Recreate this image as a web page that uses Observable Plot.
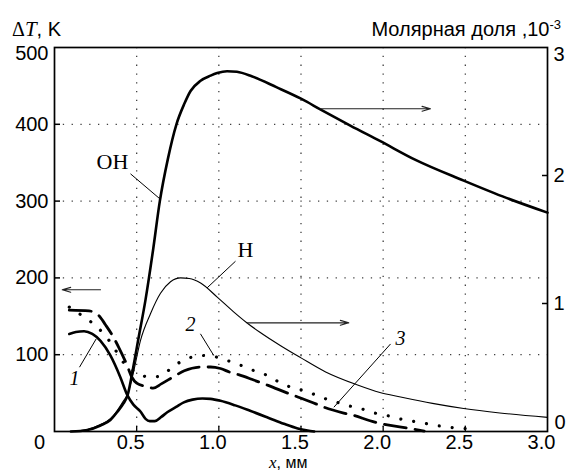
<!DOCTYPE html>
<html>
<head>
<meta charset="utf-8">
<script src="https://cdn.jsdelivr.net/npm/d3@7"></script>
<script src="https://cdn.jsdelivr.net/npm/@observablehq/plot@0.6"></script>
<style>
  html, body { margin: 0; padding: 0; background: #fff; }
</style>
</head>
<body>
<div id="chart"></div>
<script>
// ---- data ----
// right axis: molar fraction, 10^-3  (OH and H)
const xOH = [0.1,0.2,0.28,0.34,0.38,0.42,0.444,0.479,0.51,0.554,0.6,0.641,0.69,0.742,0.79,0.828,0.889,0.95,0.99,1.05,1.11,1.2,1.35,1.5,1.62,1.8,1.98,2.2,2.49,2.75,3.0];
const yOH = [0.0,0.012,0.047,0.09,0.15,0.22,0.28,0.50,0.72,1.03,1.42,1.80,2.13,2.40,2.56,2.66,2.74,2.78,2.80,2.815,2.81,2.775,2.69,2.60,2.515,2.39,2.27,2.12,1.96,1.825,1.71];
const xH = [0.1,0.2,0.28,0.34,0.38,0.42,0.444,0.48,0.523,0.584,0.645,0.706,0.767,0.82,0.889,0.99,1.09,1.17,1.25,1.376,1.5,1.65,1.84,1.98,2.106,2.3,2.49,2.71,3.0];
const yH = [0.0,0.015,0.055,0.10,0.16,0.24,0.29,0.46,0.71,0.92,1.08,1.17,1.20,1.195,1.16,1.05,0.935,0.85,0.775,0.67,0.575,0.465,0.365,0.305,0.27,0.22,0.18,0.145,0.11];
// left axis: ΔT, K  (curves 1, 2, 3)
const x1 = [0.09,0.13,0.18,0.23,0.28,0.34,0.40,0.444,0.48,0.523,0.554,0.58,0.61,0.65,0.686,0.74,0.787,0.84,0.9,0.949,1.01,1.1,1.19,1.3,1.396,1.48,1.54,1.58];
const t1 = [127,129.5,130.5,127,118,99,71,47,35,26,16.5,13.5,13.5,19,25,32,38,41.5,43,42.5,40,34,27,18,10,4,1.3,0];
const x2 = [0.09,0.18,0.26,0.33,0.38,0.43,0.5,0.57,0.645,0.72,0.81,0.89,0.97,1.05,1.13,1.21,1.295,1.37,1.447,1.54,1.615,1.69,1.78,1.86,1.94,2.02,2.1,2.18,2.27,2.35,2.43,2.51,2.55];
const t2 = [162,149,136,119,103,87,77,71,72,84.5,95,99,97.6,92.5,86.5,79.5,73,64,57,52,45,40,34,30,24.5,21,16.5,13.4,10,7,4.8,3.5,0];
const x3 = [0.09,0.21,0.27,0.31,0.35,0.39,0.44,0.47,0.5,0.56,0.6,0.65,0.73,0.79,0.89,0.95,1.01,1.07,1.12,1.2,1.25,1.3,1.43,1.48,1.59,1.64,1.76,1.82,1.92,1.99,2.12,2.2,2.25];
const t3 = [158,157,151,139,126,110,87,71,63,58.5,56.5,62,72,79,84,84,82,77,74,68,64,60,49,45,36,31.6,24,21,14,10,5.5,2.5,0.5];

// tick labels
const xTicks = [0.5,1.0,1.5,2.0,2.5,3.0];
const xGrid = [0.5,1.0,1.5,2.0,2.5];
const yTicksLeft = [100,200,300,400];
const yTicksRight = [1,2];

// annotations (data units; y in K)
const noteText = ["OH","H"];
const noteX = [0.353,1.162];
const noteY = [351,236];
const numText = ["1","2","3"];
const numX = [0.122,0.828,2.105];
const numY = [69,139,121];
const leadX1 = [0.4625,1.1015,0.152,0.888,2.045];
const leadY1 = [335.5,221.7,83.7,127.2,114];
const leadX2 = [0.641,0.929,0.254,0.969,1.70];
const leadY2 = [303,187.1,120.7,99,31.6];
const arrX1 = [0.28,1.619,1.173];
const arrX2 = [0.047,2.288,1.791];
const arrY = [184.5,420.2,141.5];

const k = 500 / 3; // right-axis unit -> left-axis unit
const idx = a => d3.range(a.length);
const serif = "'Liberation Serif','Times New Roman',serif";
const sans = "'Liberation Sans',Arial,sans-serif";

const chart = Plot.plot({
  width: 571,
  height: 472,
  marginLeft: 54,
  marginRight: 24,
  marginTop: 47,
  marginBottom: 41,
  style: {fontFamily: sans, fontSize: "20px", color: "#000", background: "#fff", overflow: "visible"},
  x: {domain: [0, 3]},
  y: {domain: [0, 500]},
  marks: [
    Plot.gridX(xGrid, {stroke: "#000", strokeOpacity: 0.75, strokeWidth: 1.3, strokeDasharray: "1.3,7.5"}),
    Plot.gridY(yTicksLeft, {stroke: "#000", strokeOpacity: 0.75, strokeWidth: 1.3, strokeDasharray: "1.3,7.5"}),
    // series
    Plot.line(idx(xH), {x: i => xH[i], y: i => yH[i] * k, stroke: "#000", strokeWidth: 1.1, curve: "monotone-x"}),
    Plot.line(idx(xOH), {x: i => xOH[i], y: i => yOH[i] * k, stroke: "#000", strokeWidth: 2.6, curve: "monotone-x"}),
    Plot.line(idx(x1), {x: i => x1[i], y: i => t1[i], stroke: "#000", strokeWidth: 2.6, curve: "monotone-x"}),
    Plot.line(idx(x2), {x: i => x2[i], y: i => t2[i], stroke: "#000", strokeWidth: 3.2, strokeLinecap: "round", strokeDasharray: "0.01,13", curve: "monotone-x"}),
    Plot.line(idx(x3), {x: i => x3[i], y: i => t3[i], stroke: "#000", strokeWidth: 2.8, strokeDasharray: "22,9", curve: "monotone-x"}),
    // annotations
    Plot.link(idx(leadX1), {x1: i => leadX1[i], y1: i => leadY1[i], x2: i => leadX2[i], y2: i => leadY2[i], stroke: "#000", strokeWidth: 1}),
    Plot.arrow(idx(arrX1), {x1: i => arrX1[i], y1: i => arrY[i], x2: i => arrX2[i], y2: i => arrY[i], stroke: "#222", strokeWidth: 1.1, headLength: 12, headAngle: 32}),
    Plot.text(idx(noteText), {x: i => noteX[i], y: i => noteY[i], text: i => noteText[i], fontFamily: serif, fontSize: 22, fill: "#000"}),
    Plot.text(idx(numText), {x: i => numX[i], y: i => numY[i], text: i => numText[i], fontFamily: serif, fontStyle: "italic", fontSize: 20, fill: "#000"}),
    // frame
    Plot.frame({stroke: "#000", strokeWidth: 1.7}),
    // bottom axis
    Plot.axisX(xTicks, {tickSize: 0, tickPadding: 3, dx: -6, tickFormat: d3.format(".1f"), label: null}),
    Plot.axisX([0], {tickSize: 0, tickPadding: 3, dx: -15, tickFormat: d => String(d), label: null}),
    Plot.axisX(xGrid, {tickSize: 5, dy: -5, tickFormat: () => "", label: null, strokeWidth: 1.3}),
    // left axis
    Plot.axisY(yTicksLeft, {anchor: "left", tickSize: 0, tickPadding: 6, label: null}),
    Plot.axisY([500], {anchor: "left", tickSize: 0, tickPadding: 6, dy: 6, label: null}),
    Plot.axisY(yTicksLeft, {anchor: "left", tickSize: 6, dx: 6, tickFormat: () => "", label: null, strokeWidth: 1.5}),
    // right axis (molar fraction)
    Plot.axisY(yTicksRight.map(v => v * k), {anchor: "right", tickSize: 0, tickPadding: 6, tickFormat: d => String(Math.round(d / k)), label: null}),
    Plot.axisY([3 * k], {anchor: "right", tickSize: 0, tickPadding: 6, dy: 7, tickFormat: d => String(Math.round(d / k)), label: null}),
    Plot.axisY([0], {anchor: "right", tickSize: 0, tickPadding: 7, dy: -9, tickFormat: d => String(Math.round(d / k)), label: null}),
    Plot.axisY(yTicksRight.map(v => v * k), {anchor: "right", tickSize: 6, dx: -6, tickFormat: () => "", label: null, strokeWidth: 1.5})
  ]
});

document.getElementById("chart").appendChild(chart);

// axis titles with mixed fonts
const svg = d3.select(chart);
const ty = svg.append("text").attr("x", 12).attr("y", 36).attr("text-anchor", "start").attr("fill", "#000").attr("font-size", 20);
ty.append("tspan").attr("font-family", serif).text("Δ");
ty.append("tspan").attr("font-family", serif).attr("font-style", "italic").attr("font-size", 21).text("T");
ty.append("tspan").attr("font-family", sans).text(", K");

const tr = svg.append("text").attr("x", 561).attr("y", 36).attr("text-anchor", "end").attr("fill", "#000").attr("font-family", sans).attr("font-size", 20);
tr.append("tspan").text("Молярная доля ,10");
tr.append("tspan").attr("dy", -7).attr("font-size", 13).text("-3");

const tx = svg.append("text").attr("x", 269).attr("y", 468).attr("text-anchor", "start").attr("fill", "#000").attr("font-size", 16);
tx.append("tspan").attr("font-family", serif).attr("font-style", "italic").attr("font-size", 17).text("x");
tx.append("tspan").attr("font-family", sans).text(", мм");
</script>
</body>
</html>
